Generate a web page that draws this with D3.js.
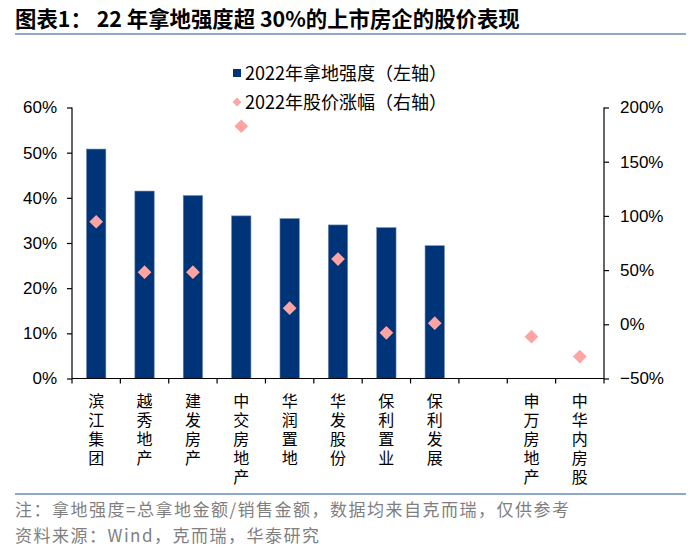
<!DOCTYPE html>
<html>
<head>
<meta charset="utf-8">
<script src="https://cdn.jsdelivr.net/npm/d3@7"></script>
<style>
  body { margin: 0; background: #fff; }
  svg { display: block; }
</style>
</head>
<body>
<div id="chart"></div>
<script>
// данные графика
const companies = ["滨江集团", "越秀地产", "建发房产", "中交房地产", "华润置地", "华发股份", "保利置业", "保利发展", "", "申万房地产", "中华内房股"];
const landIntensity = [0.508, 0.415, 0.405, 0.360, 0.354, 0.340, 0.334, 0.294, null, null, null];
const priceChange = [0.946, 0.481, 0.481, 1.827, 0.149, 0.602, -0.079, 0.010, null, -0.114, -0.298];
const leftTicks = [0, 0.1, 0.2, 0.3, 0.4, 0.5, 0.6];
const rightTicks = [-0.5, 0, 0.5, 1.0, 1.5, 2.0];
const legendLabels = ["2022年拿地强度（左轴）", "2022年股价涨幅（右轴）"];
const titleText = "图表1： 22 年拿地强度超 30%的上市房企的股价表现";
const notes = ["注：拿地强度=总拿地金额/销售金额，数据均来自克而瑞，仅供参考", "资料来源：Wind，克而瑞，华泰研究"];

const W = 700, H = 556;
const plot = {left: 72, right: 604, top: 107.5, bottom: 378.5};
const barColor = "#003478";
const dotColor = "#FFA3A3";
const cjk = "'Noto Sans CJK SC', sans-serif";
const latin = "'Liberation Sans', Arial, sans-serif";

const svg = d3.select("#chart").append("svg")
    .attr("width", W).attr("height", H);

// заголовок
svg.append("text")
    .attr("x", 15).attr("y", 27)
    .style("font-family", cjk)
    .style("font-weight", "bold")
    .style("font-size", "21.4px")
    .attr("fill", "#000")
    .text(titleText);

svg.append("line")
    .attr("x1", 15).attr("x2", 686).attr("y1", 34).attr("y2", 34)
    .attr("stroke", "#8FA9C9").attr("stroke-width", 2);

svg.append("line")
    .attr("x1", 15).attr("x2", 686).attr("y1", 494).attr("y2", 494)
    .attr("stroke", "#8FA9C9").attr("stroke-width", 2);

// шкалы
const x = d3.scaleBand()
    .domain(d3.range(companies.length))
    .range([plot.left, plot.right])
    .paddingInner(0.6).paddingOuter(0.3);

const yL = d3.scaleLinear().domain([0, 0.6]).range([plot.bottom, plot.top]);
const yR = d3.scaleLinear().domain([-0.5, 2.0]).range([plot.bottom, plot.top]);

const pct = d3.format(".0%");

// левая ось
const gL = svg.append("g")
    .attr("transform", `translate(${plot.left},0)`)
    .call(d3.axisLeft(yL).tickValues(leftTicks).tickFormat(pct).tickSize(5).tickPadding(10));

// правая ось
const gR = svg.append("g")
    .attr("transform", `translate(${plot.right},0)`)
    .call(d3.axisRight(yR).tickValues(rightTicks).tickFormat(pct).tickSize(5).tickPadding(11));

[gL, gR].forEach(g => {
    g.select(".domain").attr("stroke", "#000").attr("stroke-width", 1.2)
        .attr("d", `M0,${plot.top}V${plot.bottom}`);
    g.selectAll(".tick line").attr("stroke", "#000").attr("stroke-width", 1.2);
    g.selectAll(".tick text")
        .style("font-family", latin)
        .style("font-size", "17px")
        .attr("fill", "#000");
});

// столбцы
svg.append("g").selectAll("rect")
    .data(landIntensity.map((v, i) => ({v, i})).filter(d => d.v !== null))
    .join("rect")
    .attr("x", d => x(d.i))
    .attr("width", x.bandwidth())
    .attr("y", d => yL(d.v))
    .attr("height", d => yL(0) - yL(d.v))
    .attr("fill", barColor)
    .attr("stroke", "#6C87B0")
    .attr("stroke-width", 0.6);

// нижняя ось
const step = x.step();
const boundaries = d3.range(companies.length + 1).map(i => plot.left + i * step);
const gB = svg.append("g");
gB.append("line")
    .attr("x1", plot.left).attr("x2", plot.right)
    .attr("y1", plot.bottom).attr("y2", plot.bottom)
    .attr("stroke", "#000").attr("stroke-width", 1.2);
gB.selectAll(".tk").data(boundaries).join("line")
    .attr("class", "tk")
    .attr("x1", d => d).attr("x2", d => d)
    .attr("y1", plot.bottom).attr("y2", plot.bottom + 5)
    .attr("stroke", "#000").attr("stroke-width", 1.2);

// подписи категорий (вертикально)
svg.append("g").selectAll("text")
    .data(companies.map((name, i) => ({name, i})).filter(d => d.name))
    .join("text")
    .attr("x", d => x(d.i) + x.bandwidth() / 2)
    .attr("y", 393)
    .style("writing-mode", "vertical-rl")
    .style("text-orientation", "upright")
    .style("letter-spacing", "3px")
    .style("font-family", cjk)
    .style("font-size", "16px")
    .attr("fill", "#000")
    .text(d => d.name);

// ромбы
const diamond = d3.symbol().type(d3.symbolDiamond2).size(120);
svg.append("g").selectAll("path")
    .data(priceChange.map((v, i) => ({v, i})).filter(d => d.v !== null))
    .join("path")
    .attr("d", diamond)
    .attr("transform", d => `translate(${x(d.i) + x.bandwidth() / 2},${yR(d.v)})`)
    .attr("fill", dotColor);

// легенда
const lg = svg.append("g");
lg.append("rect").attr("x", 233).attr("y", 69).attr("width", 8).attr("height", 8).attr("fill", barColor);
lg.append("path").attr("d", d3.symbol().type(d3.symbolDiamond2).size(50))
    .attr("transform", "translate(237,102)").attr("fill", dotColor);
legendLabels.forEach((s, k) => {
    lg.append("text")
        .attr("x", 245).attr("y", 80 + k * 29)
        .style("font-family", cjk)
        .style("font-size", "18px")
        .attr("fill", "#000")
        .text(s);
});

// примечания
notes.forEach((s, k) => {
    svg.append("text")
        .attr("x", 15).attr("y", 516 + k * 26)
        .style("font-family", cjk)
        .style("font-size", "17px")
        .style("letter-spacing", "1.5px")
        .attr("fill", "#7F7F7F")
        .text(s);
});
</script>
</body>
</html>
